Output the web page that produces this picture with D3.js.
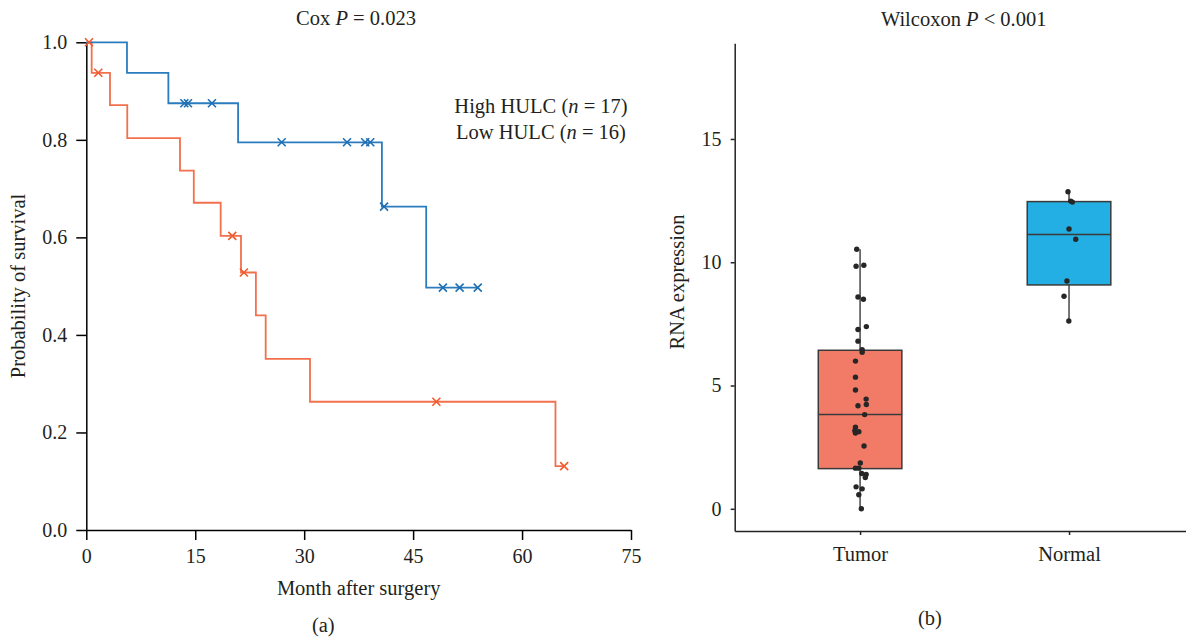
<!DOCTYPE html>
<html>
<head>
<meta charset="utf-8">
<script src="https://cdn.jsdelivr.net/npm/d3@7"></script>
<style>
  html, body { margin: 0; padding: 0; background: #fff; }
  svg { display: block; }
  text { font-family: "Liberation Serif", "Times New Roman", serif; fill: #231f20; }
</style>
</head>
<body>
<svg id="chart" width="1186" height="639"></svg>
<script>
// ---------------- Data: panel (a) Kaplan-Meier ----------------
const highTimes  = [0, 5.6, 11.3, 20.9, 40.7, 46.8];
const highSurv   = [1.0, 0.9375, 0.875, 0.795, 0.663, 0.497];
const highEnd    = 53.9;
const highCensor = [13.5, 14.0, 17.3, 26.9, 35.9, 38.4, 39.1, 41.0, 49.1, 51.4, 53.9];

const lowTimes  = [0, 0.74, 3.26, 5.64, 12.9, 14.8, 18.5, 21.3, 23.35, 24.7, 30.8, 64.6];
const lowSurv   = [1.0, 0.9375, 0.871, 0.8035, 0.737, 0.671, 0.603, 0.528, 0.44, 0.351, 0.263, 0.131];
const lowEnd    = 65.8;
const lowCensor = [0.37, 1.65, 20.1, 21.7, 48.2, 65.8];

const kmXTicks = [0, 15, 30, 45, 60, 75];
const kmYTicks = [0.0, 0.2, 0.4, 0.6, 0.8, 1.0];
const legendLabels = [["High HULC (", "n", " = 17)"], ["Low HULC (", "n", " = 16)"]];

// ---------------- Data: panel (b) box plot ----------------
const categories = ["Tumor", "Normal"];
const tumorValues = [10.53, 9.84, 9.88, 8.59, 8.50, 7.27, 7.39, 6.80, 6.45, 6.35, 5.99, 5.34, 4.82, 4.45, 4.23, 4.18,
                     3.82, 3.31, 3.17, 3.13, 3.07, 2.55, 1.86, 1.65, 1.65, 1.43, 1.39, 1.27, 0.89, 0.81, 0.57, 0.0];
const tumorJitter = [-0.016, -0.019, 0.018, -0.010, 0.016, -0.010, 0.030, -0.010, 0.010, 0.010, -0.022, -0.022, -0.022, 0.029, 0.030, -0.010,
                     0.022, -0.022, -0.025, -0.006, -0.022, 0.019, 0.001, -0.022, -0.006, 0.008, 0.029, 0.025, -0.019, 0.010, -0.006, 0.006];
const normalValues = [12.86, 12.48, 12.44, 11.35, 10.93, 9.24, 8.62, 7.62];
const normalJitter = [-0.005, 0.008, 0.016, 0.0, 0.032, -0.010, -0.024, -0.001];
// [lower whisker, Q1, median, Q3, upper whisker]
const tumorBox  = [0.0, 1.63, 3.82, 6.43, 10.53];
const normalBox = [7.62, 9.08, 11.13, 12.46, 12.86];
const boxYTicks = [0, 5, 10, 15];

// ---------------- Styles ----------------
const FS = "20.5px";
const FT = "20px";
const blue = "#2b7cbf", red = "#f2704c";
const blueMark = "#1f6fb5", redMark = "#f05a2c";
const boxFill = ["#f27b68", "#23afe3"];

const svg = d3.select("#chart");

// ===== Panel (a) =====
const xA = d3.scaleLinear().domain([0, 75]).range([86.3, 631]);
const yA = d3.scaleLinear().domain([0, 1]).range([530, 42.3]);

function styleAxis(g, fs) {
  g.select(".domain").attr("stroke", "#000").attr("stroke-width", 1.5);
  g.selectAll(".tick line").attr("stroke", "#000").attr("stroke-width", 1.5);
  g.selectAll(".tick text").style("font-size", fs).style("font-family", '"Liberation Serif", serif').attr("fill", "#231f20");
}

const gA = svg.append("g");
gA.append("g").attr("transform", `translate(0,${yA(0)})`)
  .call(d3.axisBottom(xA).tickValues(kmXTicks).tickFormat(d3.format("d")).tickSize(10).tickPadding(8.5).tickSizeOuter(0))
  .call(g => styleAxis(g, FT));
gA.append("g").attr("transform", `translate(${xA(0)},0)`)
  .call(d3.axisLeft(yA).tickValues(kmYTicks).tickFormat(d3.format(".1f")).tickSize(10).tickPadding(9).tickSizeOuter(0))
  .call(g => styleAxis(g, FT));

function stepPoints(times, surv, end) {
  const pts = times.map((t, i) => [t, surv[i]]);
  pts.push([end, surv[surv.length - 1]]);
  return pts;
}
function survAt(times, surv, t) {
  const i = d3.bisectRight(times, t) - 1;
  return surv[Math.max(0, i)];
}
const stepLine = d3.line().x(d => xA(d[0])).y(d => yA(d[1])).curve(d3.curveStepAfter);

const groups = [
  {times: lowTimes, surv: lowSurv, end: lowEnd, censor: lowCensor, color: red, mark: redMark},
  {times: highTimes, surv: highSurv, end: highEnd, censor: highCensor, color: blue, mark: blueMark}
];
groups.forEach(g => {
  gA.append("path").datum(stepPoints(g.times, g.surv, g.end))
    .attr("d", stepLine).attr("fill", "none").attr("stroke", g.color).attr("stroke-width", 1.8);
});
groups.forEach(g => {
  const s = 4;
  gA.append("g").selectAll("path").data(g.censor).join("path")
    .attr("d", t => {
      const cx = xA(t), cy = yA(survAt(g.times, g.surv, t));
      return `M${cx - s},${cy - s}L${cx + s},${cy + s}M${cx - s},${cy + s}L${cx + s},${cy - s}`;
    })
    .attr("stroke", g.mark).attr("stroke-width", 1.6).attr("fill", "none");
});

// title, legend, labels
const tA = gA.append("text").attr("x", 356).attr("y", 25).attr("text-anchor", "middle").style("font-size", FS);
tA.append("tspan").text("Cox ");
tA.append("tspan").style("font-style", "italic").text("P");
tA.append("tspan").text(" = 0.023");

legendLabels.forEach((parts, i) => {
  const t = gA.append("text").attr("x", 541).attr("y", 113 + i * 25.5).attr("text-anchor", "middle").style("font-size", FS);
  t.append("tspan").text(parts[0]);
  t.append("tspan").style("font-style", "italic").text(parts[1]);
  t.append("tspan").text(parts[2]);
});

gA.append("text").attr("x", 358.7).attr("y", 595).attr("text-anchor", "middle").style("font-size", FS).text("Month after surgery");
gA.append("text").attr("transform", "translate(25,286) rotate(-90)").attr("text-anchor", "middle").style("font-size", FS).text("Probability of survival");
gA.append("text").attr("x", 323.3).attr("y", 632).attr("text-anchor", "middle").style("font-size", FS).text("(a)");

// ===== Panel (b) =====
const xB = d3.scaleLinear().domain([0.4, 2.6]).range([734.7, 1194.4]);
const yB = d3.scaleLinear().domain([-0.9, 18.88]).range([531, 43.3]);
const gB = svg.append("g");

gB.append("g").attr("transform", `translate(0,${yB(-0.9)})`)
  .call(d3.axisBottom(xB).tickValues([1, 2]).tickFormat(d => categories[d - 1]).tickSize(4).tickPadding(11).tickSizeOuter(0))
  .call(g => styleAxis(g, FS))
  .call(g => g.selectAll(".tick line, .domain").attr("stroke", "#222"));
gB.append("g").attr("transform", `translate(${xB(0.4)},0)`)
  .call(d3.axisLeft(yB).tickValues(boxYTicks).tickSize(4).tickPadding(9.3).tickSizeOuter(0))
  .call(g => styleAxis(g, FT))
  .call(g => g.selectAll(".tick line, .domain").attr("stroke", "#222"));

const boxes = [
  {cat: 1, stats: tumorBox, vals: tumorValues, jit: tumorJitter, fill: boxFill[0]},
  {cat: 2, stats: normalBox, vals: normalValues, jit: normalJitter, fill: boxFill[1]}
];
const halfW = 0.2;
boxes.forEach(b => {
  const [lo, q1, med, q3, hi] = b.stats;
  const g = gB.append("g");
  g.append("line").attr("x1", xB(b.cat)).attr("x2", xB(b.cat)).attr("y1", yB(lo)).attr("y2", yB(hi))
    .attr("stroke", "#3a3a3a").attr("stroke-width", 1.4);
  g.append("rect").attr("x", xB(b.cat - halfW)).attr("width", xB(b.cat + halfW) - xB(b.cat - halfW))
    .attr("y", yB(q3)).attr("height", yB(q1) - yB(q3))
    .attr("fill", b.fill).attr("stroke", "#3a3a3a").attr("stroke-width", 1.5);
  g.append("line").attr("x1", xB(b.cat - halfW)).attr("x2", xB(b.cat + halfW)).attr("y1", yB(med)).attr("y2", yB(med))
    .attr("stroke", "#3a3a3a").attr("stroke-width", 1.5);
  g.append("g").selectAll("circle").data(b.vals).join("circle")
    .attr("cx", (d, i) => xB(b.cat + b.jit[i])).attr("cy", d => yB(d)).attr("r", 2.7).attr("fill", "#262626");
});

const tB = gB.append("text").attr("x", 963.7).attr("y", 26).attr("text-anchor", "middle").style("font-size", FS);
tB.append("tspan").text("Wilcoxon ");
tB.append("tspan").style("font-style", "italic").text("P");
tB.append("tspan").text(" < 0.001");

gB.append("text").attr("transform", "translate(684,282) rotate(-90)").attr("text-anchor", "middle").style("font-size", FS).text("RNA expression");
gB.append("text").attr("x", 930).attr("y", 625).attr("text-anchor", "middle").style("font-size", FS).text("(b)");
</script>
</body>
</html>
